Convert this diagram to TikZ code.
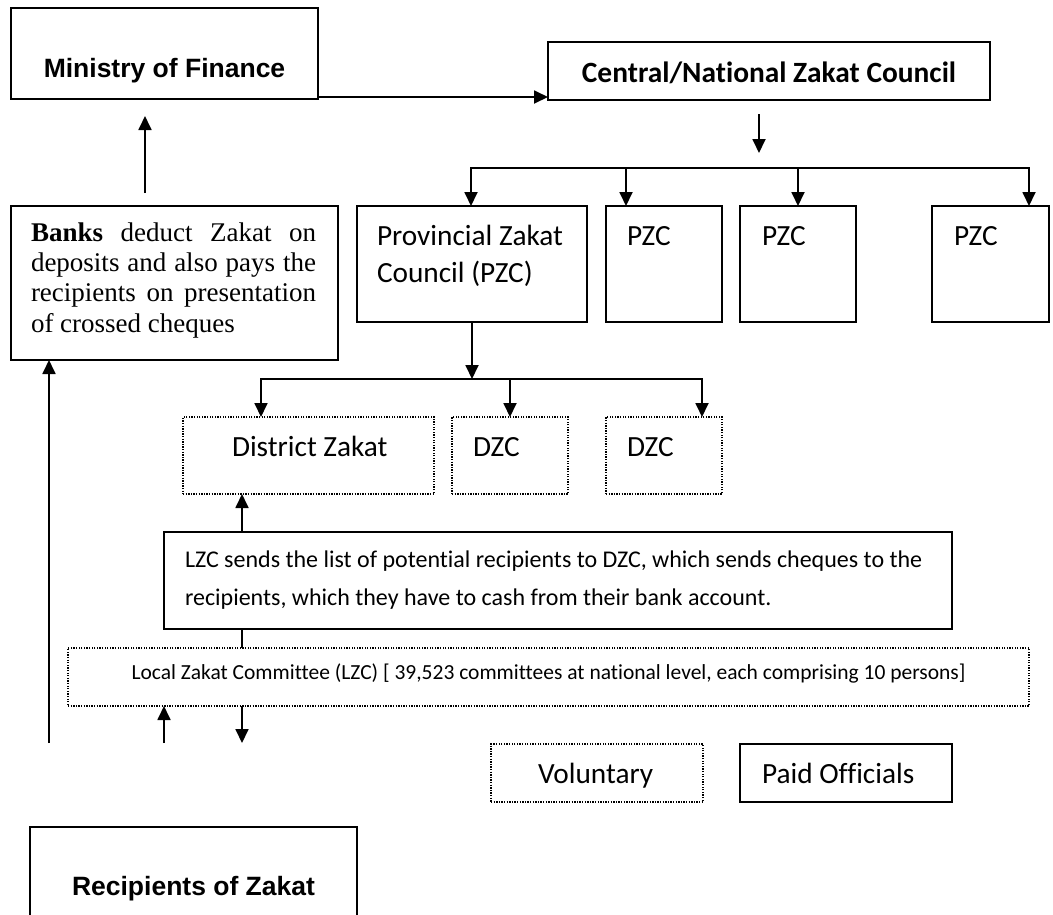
\documentclass[tikz,border=0pt]{standalone}
\usepackage{fontspec}
\setmainfont{Carlito}[Ligatures=NoCommon]
\newfontfamily\arialf{Liberation Sans}
\newfontfamily\timesf{Liberation Serif}
\usetikzlibrary{arrows.meta}
\begin{document}
\begin{tikzpicture}[x=1pt,y=-1pt,
  box/.style={draw=black, line width=1.7pt, inner sep=0pt, outer sep=0pt},
  dotbox/.style={draw=black, line width=1.3pt, dash pattern=on 1.3pt off 1.3pt, inner sep=0pt, outer sep=0pt},
  txt/.style={inner sep=0pt, outer sep=0pt, anchor=base west},
  ctxt/.style={inner sep=0pt, outer sep=0pt, anchor=base},
  conn/.style={line width=1.8pt},
  tipend/.style={-{Triangle[length=14pt,width=13pt]}},
  arr/.style={conn, tipend},
  both/.style={conn, {Triangle[length=14pt,width=13pt]}-{Triangle[length=14pt,width=13pt]}},
  arb/.style={font=\arialf\bfseries\fontsize{26.5}{32}\selectfont},
  cal/.style={font=\fontsize{29.3}{35}\selectfont},
  tms/.style={font=\timesf\fontsize{27}{30}\selectfont}
]
\useasboundingbox (0,0) rectangle (1053,914);
\clip (0,0) rectangle (1053,914);

% boxes
\node[box, minimum width=307pt, minimum height=91pt] (min) at (164.5,53.5) {};
\node[box, minimum width=442pt, minimum height=58pt] (cen) at (769,71) {};
\node[box, minimum width=327pt, minimum height=154pt] (banks) at (174.5,283) {};
\node[box, minimum width=230pt, minimum height=116pt] (prov) at (472,264) {};
\node[box, minimum width=116pt, minimum height=116pt] (pzc2) at (664,264) {};
\node[box, minimum width=116pt, minimum height=116pt] (pzc3) at (798,264) {};
\node[box, minimum width=117pt, minimum height=116pt] (pzc4) at (990.5,264) {};
\node[dotbox, minimum width=251pt, minimum height=77pt] (dz1) at (308.5,455.5) {};
\node[dotbox, minimum width=116pt, minimum height=77pt] (dz2) at (510,455.5) {};
\node[dotbox, minimum width=116pt, minimum height=77pt] (dz3) at (664,455.5) {};
\node[box, minimum width=788pt, minimum height=97pt] (note) at (558,580.5) {};
\node[dotbox, minimum width=961pt, minimum height=58pt] (lzc) at (548.5,677) {};
\node[dotbox, minimum width=212pt, minimum height=58pt] (vol) at (597,773) {};
\node[box, minimum width=212pt, minimum height=58pt] (paid) at (846,773) {};
\node[box, minimum width=327pt, minimum height=173pt] (rec) at (193.5,913.5) {};

% texts
\node[ctxt, arb] (tmin) at (164.5,77) {Ministry of Finance};
\node[ctxt, font=\bfseries\fontsize{29.4}{35}\selectfont] (tcen) at (769,82) {Central/National Zakat Council};
\node[txt, tms] (tb1) at (31,241) {\makebox[285pt][s]{\textbf{Banks} deduct Zakat on}};
\node[txt, tms] (tb2) at (31,271) {\makebox[285pt][s]{deposits and also pays the}};
\node[txt, tms] (tb3) at (31,301) {\makebox[285pt][s]{recipients on presentation}};
\node[txt, tms] (tb4) at (31,332) {of crossed cheques};
\node[txt, cal] (tp1) at (377,245) {Provincial Zakat};
\node[txt, cal] (tp2) at (377,282) {Council (PZC)};
\node[txt, cal] (tp3) at (627,245) {PZC};
\node[txt, cal] (tp4) at (762,245) {PZC};
\node[txt, cal] (tp5) at (954,245) {PZC};
\node[txt, cal] (td1) at (232,456) {District Zakat};
\node[txt, cal] (td2) at (473,456) {DZC};
\node[txt, cal] (td3) at (627,456) {DZC};
\node[txt, font=\fontsize{24}{29}\selectfont] (tn1) at (185,567) {LZC sends the list of potential recipients to DZC, which sends cheques to the};
\node[txt, font=\fontsize{24}{29}\selectfont] (tn2) at (185,605) {recipients, which they have to cash from their bank account.};
\node[ctxt, font=\fontsize{21.5}{26}\selectfont] (tl) at (548.5,679) {Local Zakat Committee (LZC) [ 39,523 committees at national level, each comprising 10 persons]};
\node[txt, cal] (tv) at (538,783) {Voluntary};
\node[txt, cal] (tpo) at (762,783) {Paid Officials};
\node[ctxt, arb] (tr) at (193.5,895) {Recipients of Zakat};

% coordinates for free ends / branch points
\coordinate (mfA) at (145,193);
\coordinate (mfB) at (145,116);
\coordinate (cA) at (759,114);
\coordinate (cB) at (759,153);
\coordinate (pa) at (471,168);
\coordinate (pb) at (1029,168);
\coordinate (p2) at (626,168);
\coordinate (p3) at (798,168);
\coordinate (da) at (261,379);
\coordinate (db) at (702,379);
\coordinate (dm) at (510,379);
\coordinate (nx) at (242,0);
\coordinate (u1) at (164,743);
\coordinate (d1) at (242,743);
\coordinate (b1) at (49,743);

% connectors
\draw[arr] (mfA) -- (mfB);
\draw[arr] ([yshift=2pt]min.south east) -- ([yshift=2pt]min.south east -| cen.west);
\draw[arr] (cA) -- (cB);
\draw[both] (prov.north -| pa) |- (pb) -- (pzc4.north -| pb);
\draw[arr] (p2) -- (pzc2.north -| p2);
\draw[arr] (p3) -- (pzc3.north -| p3);
\draw[arr] (prov.south) -- (prov.south |- da);
\draw[both] (dz1.north -| da) |- (db) -- (dz3.north -| db);
\draw[arr] (dm) -- (dz2.north -| dm);
\draw[arr] (note.north -| nx) -- (dz1.south -| nx);
\draw[conn] (note.south -| nx) -- (lzc.north -| nx);
\draw[arr] (u1) -- (lzc.south -| u1);
\draw[arr] (lzc.south -| d1) -- (d1);
\draw[arr] (b1) -- (banks.south -| b1);
\end{tikzpicture}
\end{document}
